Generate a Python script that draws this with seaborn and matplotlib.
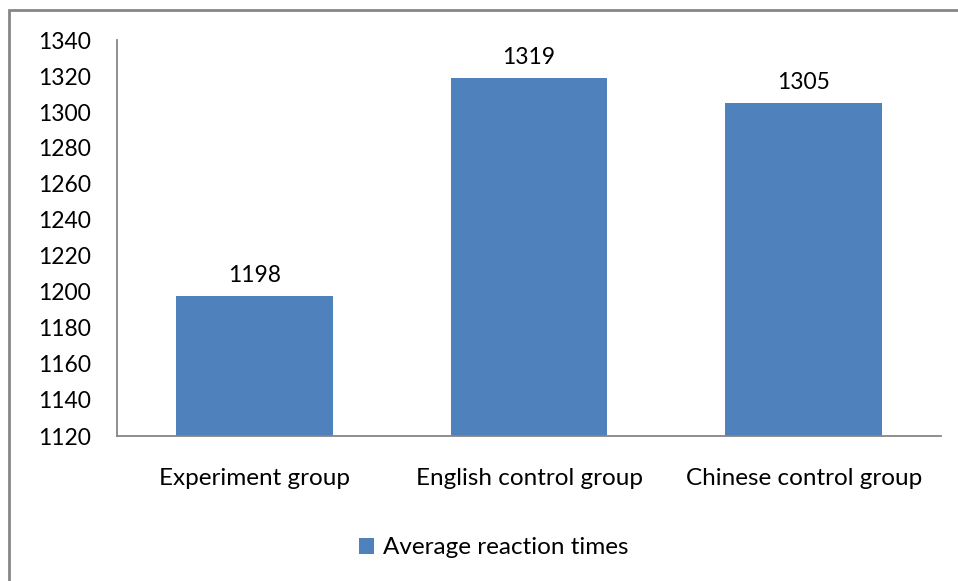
import matplotlib
matplotlib.use("Agg")
import matplotlib.pyplot as plt
import seaborn as sns
import pandas as pd
from matplotlib.patches import Rectangle, Patch

groups = ["Experiment group", "English control group", "Chinese control group"]
reaction_times = [1198, 1319, 1305]
y_ticks = list(range(1120, 1341, 20))
series_name = "Average reaction times"

bar_color = "#4F81BD"
axis_color = "#868686"

sns.set_theme(style="white")
plt.rcParams["font.family"] = ["Lato", "DejaVu Sans"]

df = pd.DataFrame({"group": groups, "value": reaction_times})

fig = plt.figure(figsize=(9.58, 5.81), dpi=100)
ax = fig.add_axes([117 / 958, 1 - 436 / 581, (941 - 117) / 958, (436 - 40) / 581])

sns.barplot(data=df, x="group", y="value", color=bar_color, saturation=1,
            width=0.57, ax=ax, edgecolor="none")

ax.set_ylim(1120, 1340)
ax.set_yticks(y_ticks)
ax.set_yticklabels([str(t) for t in y_ticks], fontsize=16.5, color="black")
ax.tick_params(axis="y", length=0, pad=18.5)
ax.tick_params(axis="x", length=0, pad=23, labelsize=17.5, labelcolor="black")
ax.set_xlabel("")
ax.set_ylabel("")

for side in ["top", "right"]:
    ax.spines[side].set_visible(False)
for side in ["left", "bottom"]:
    ax.spines[side].set_color(axis_color)
    ax.spines[side].set_linewidth(1.3)

for i, v in enumerate(reaction_times):
    ax.text(i, v + 5.5, str(v), ha="center", va="bottom", fontsize=16.5, color="black")

# outer chart border
fig.patches.append(Rectangle((9 / 958, -0.01), 1.0, 1 - 10 / 581 + 0.01,
                             transform=fig.transFigure, fill=False,
                             edgecolor=axis_color, linewidth=2))

fig.legend(handles=[Patch(facecolor=bar_color, edgecolor="none", label=series_name)],
           loc="center", bbox_to_anchor=(494 / 958, 1 - 548 / 581), frameon=False,
           fontsize=17.5, handlelength=0.6, handleheight=0.6, handletextpad=0.4,
           labelcolor="black")

fig.savefig("out.png", dpi=100)
